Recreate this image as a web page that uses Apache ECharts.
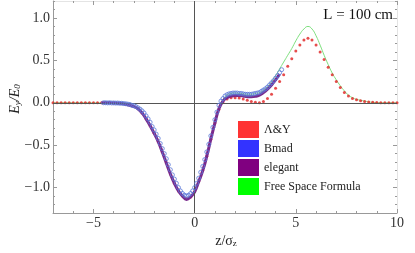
<!DOCTYPE html>
<html><head><meta charset="utf-8">
<script src="https://cdn.jsdelivr.net/npm/echarts@6/dist/echarts.min.js"></script>
<style>html,body{margin:0;padding:0;background:#fff}#c{width:415px;height:253px}</style>
</head><body><div id="c"></div>
<script>
// ---- data ----
const seriesNames = ['Λ&Y', 'Bmad', 'elegant', 'Free Space Formula'];
const xMajorTicks = [-5, 0, 5, 10];
const yMajorTicks = [-1, -0.5, 0, 0.5, 1];

// A&Y (red dots): z from -7 to 10, step 0.2
const ayStart = -7, ayStep = 0.2;
const ayVals = [
0,0,0,0,0,0,0,0,0,0,0,0,0,0,0,
-0.003,-0.006,-0.01,-0.018,-0.03,-0.045,-0.07,-0.12,-0.19,-0.27,
-0.36,-0.46,-0.58,-0.71,-0.84,-0.95,-1.04,-1.10,-1.13,-1.11,
-1.05,-0.93,-0.80,-0.63,-0.43,-0.24,-0.08,0.01,0.045,0.06,
0.06,0.055,0.045,0.03,0.015,0.005,0.0,0.015,0.05,0.10,
0.17,0.25,0.33,0.43,0.52,0.61,0.68,0.74,0.76,0.74,
0.68,0.60,0.51,0.42,0.33,0.25,0.18,0.12,0.08,0.05,
0.035,0.025,0.015,0.01,0.005,0.002,0,0,0,0,0
];

// Bmad (blue open circles): z from -4.5 to 4.3, step 0.1
const bmadStart = -4.5, bmadStep = 0.1;
const bmadVals = [
0.0,0.0,-0.002,0.0,-0.003,-0.002,-0.004,-0.003,-0.006,-0.006,
-0.01,-0.012,-0.016,-0.02,-0.03,-0.035,-0.045,-0.06,-0.075,-0.095,
-0.12,-0.155,-0.19,-0.23,-0.28,-0.32,-0.37,-0.42,-0.48,-0.54,
-0.60,-0.66,-0.73,-0.79,-0.85,-0.90,-0.95,-1.00,-1.04,-1.07,
-1.09,-1.10,-1.09,-1.07,-1.04,-1.00,-0.95,-0.89,-0.82,-0.75,
-0.67,-0.58,-0.49,-0.39,-0.29,-0.20,-0.11,-0.03,0.02,0.05,
0.08,0.095,0.105,0.11,0.115,0.115,0.115,0.11,0.11,0.105,
0.10,0.10,0.10,0.10,0.105,0.11,0.115,0.12,0.135,0.15,
0.165,0.185,0.21,0.235,0.26,0.29,0.32,0.355,0.39
];

// elegant (purple line): z from -4.6 to 4.2, step 0.2
const elStart = -4.6, elStep = 0.2;
const elVals = [
0,0,0,
-0.003,-0.006,-0.01,-0.018,-0.03,-0.045,-0.07,-0.12,-0.19,-0.27,
-0.36,-0.46,-0.58,-0.71,-0.84,-0.95,-1.04,-1.10,-1.14,-1.11,
-1.05,-0.93,-0.80,-0.63,-0.43,-0.24,-0.07,0.02,0.06,0.08,
0.085,0.085,0.08,0.07,0.07,0.075,0.09,0.12,0.16,0.21,
0.27,0.34
];

// Free Space Formula (green line): z from -7 to 10, step 0.2
const fsStart = -7, fsStep = 0.2;
const fsVals = [
0,0,0,0,0,0,0,0,0,0,0,0,0,0,0,
-0.003,-0.006,-0.01,-0.018,-0.03,-0.045,-0.07,-0.12,-0.19,-0.27,
-0.36,-0.46,-0.58,-0.71,-0.84,-0.95,-1.04,-1.10,-1.13,-1.11,
-1.05,-0.93,-0.80,-0.63,-0.43,-0.24,-0.07,0.04,0.09,0.11,
0.115,0.11,0.105,0.10,0.10,0.11,0.12,0.15,0.19,0.25,
0.32,0.40,0.48,0.56,0.64,0.73,0.81,0.87,0.90,0.87,
0.79,0.68,0.56,0.45,0.35,0.27,0.20,0.14,0.09,0.06,
0.04,0.03,0.02,0.01,0.005,0.002,0,0,0,0,0
];

function pairs(start, step, vals) {
  return vals.map((v, i) => [+(start + i * step).toFixed(3), v]);
}

const serif = 'Liberation Serif';
const minus = v => (v < 0 ? '\u2212' : '') + Math.abs(v);
const frameCol = '#999';

const chart = echarts.init(document.getElementById('c'), null, {renderer: 'canvas'});
const xBase = {type: 'value', min: -7, max: 10, splitLine: {show: false}};
const yBase = {type: 'value', min: -1.3, max: 1.2, splitLine: {show: false}};
chart.setOption({
  animation: false,
  backgroundColor: '#fff',
  grid: {left: 53, right: 18, top: 1, bottom: 40},
  xAxis: [
    Object.assign({}, xBase, {position: 'bottom',
      axisLine: {show: true, onZero: false, lineStyle: {color: frameCol, width: 1}},
      axisTick: {show: true, inside: true, length: 4, customValues: xMajorTicks, lineStyle: {color: frameCol}},
      axisLabel: {customValues: xMajorTicks, formatter: minus, margin: 3, fontFamily: serif, fontSize: 14, color: '#333'}}),
    Object.assign({}, xBase, {position: 'bottom', interval: 1,
      axisLine: {show: false, onZero: false},
      axisTick: {show: true, inside: true, length: 2, lineStyle: {color: frameCol}},
      axisLabel: {show: false}}),
    Object.assign({}, xBase, {position: 'top',
      axisLine: {show: true, onZero: false, lineStyle: {color: '#e4e4e4', width: 1}},
      axisTick: {show: true, inside: true, length: 4, customValues: xMajorTicks, lineStyle: {color: frameCol}},
      axisLabel: {show: false}}),
    Object.assign({}, xBase, {position: 'top', interval: 1,
      axisLine: {show: false, onZero: false},
      axisTick: {show: true, inside: true, length: 2, lineStyle: {color: frameCol}},
      axisLabel: {show: false}})
  ],
  yAxis: [
    Object.assign({}, yBase, {position: 'left',
      axisLine: {show: true, onZero: false, lineStyle: {color: frameCol, width: 1}},
      axisTick: {show: true, inside: true, length: 4, customValues: yMajorTicks, lineStyle: {color: frameCol}},
      axisLabel: {customValues: yMajorTicks, formatter: v => (v < 0 ? '\u2212' : '') + Math.abs(v).toFixed(1),
        margin: 3, fontFamily: serif, fontSize: 14, color: '#333'}}),
    Object.assign({}, yBase, {position: 'left', interval: 0.1,
      axisLine: {show: false, onZero: false},
      axisTick: {show: true, inside: true, length: 2, lineStyle: {color: frameCol}},
      axisLabel: {show: false}}),
    Object.assign({}, yBase, {position: 'right',
      axisLine: {show: true, onZero: false, lineStyle: {color: '#e4e4e4', width: 1}},
      axisTick: {show: true, inside: true, length: 4, customValues: yMajorTicks, lineStyle: {color: frameCol}},
      axisLabel: {show: false}}),
    Object.assign({}, yBase, {position: 'right', interval: 0.1,
      axisLine: {show: false, onZero: false},
      axisTick: {show: true, inside: true, length: 2, lineStyle: {color: frameCol}},
      axisLabel: {show: false}})
  ],
  legend: {
    orient: 'vertical', left: 238, top: 121, padding: 0,
    itemWidth: 21, itemHeight: 17, itemGap: 2, icon: 'rect',
    textStyle: {fontFamily: serif, fontSize: 12, color: '#222'},
    data: [
      {name: seriesNames[0], itemStyle: {color: '#ff0000', borderWidth: 0}},
      {name: seriesNames[1], itemStyle: {color: '#0000ff', borderWidth: 0}},
      {name: seriesNames[2], itemStyle: {color: '#800080', borderWidth: 0}},
      {name: seriesNames[3], itemStyle: {color: '#00ff00', borderWidth: 0}}
    ]
  },
  graphic: [
    {type: 'text', right: 22, top: 8, style: {text: 'L = 100 cm', font: '15px "Liberation Serif"', fill: '#111'}},
    {type: 'text', x: 15, y: 99, rotation: Math.PI / 2,
      style: {text: '{a|E}{b|y}{a|/E}{b|0}', align: 'center', verticalAlign: 'middle', fill: '#222',
        rich: {a: {fontFamily: serif, fontStyle: 'italic', fontSize: 14, fill: '#222'},
               b: {fontFamily: serif, fontStyle: 'italic', fontSize: 9, padding: [6, 0, 0, 0], fill: '#222'}}}},
    {type: 'text', x: 226, y: 241,
      style: {text: '{a|z/\u03c3}{b|z}', align: 'center', verticalAlign: 'middle', fill: '#222',
        rich: {a: {fontFamily: serif, fontSize: 14, fill: '#222'},
               b: {fontFamily: serif, fontSize: 9, padding: [6, 0, 0, 0], fill: '#222'}}}}
  ],
  series: [
    {name: seriesNames[3], type: 'line', xAxisIndex: 0, yAxisIndex: 0, data: pairs(fsStart, fsStep, fsVals),
      showSymbol: false, smooth: true, lineStyle: {color: '#7ee07e', width: 1}, itemStyle: {color: '#00ff00'}, z: 2,
      markLine: {silent: true, symbol: 'none', label: {show: false},
        lineStyle: {color: '#555', width: 1, type: 'solid'},
        data: [{xAxis: 0}, {yAxis: 0}]}},
    {name: seriesNames[0], type: 'scatter', xAxisIndex: 0, yAxisIndex: 0, data: pairs(ayStart, ayStep, ayVals),
      symbol: 'circle', symbolSize: 3, itemStyle: {color: '#e02020'}, z: 3},
    {name: seriesNames[2], type: 'line', xAxisIndex: 0, yAxisIndex: 0, data: pairs(elStart, elStep, elVals),
      showSymbol: false, smooth: true, lineStyle: {color: '#7a2a8c', width: 3}, itemStyle: {color: '#800080'}, z: 4},
    {name: seriesNames[1], type: 'scatter', xAxisIndex: 0, yAxisIndex: 0, data: pairs(bmadStart, bmadStep, bmadVals),
      symbol: 'circle', symbolSize: 4,
      itemStyle: {color: 'rgba(0,0,0,0)', borderColor: '#5a78d8', borderWidth: 1}, z: 5}
  ]
});
</script>
</body></html>
